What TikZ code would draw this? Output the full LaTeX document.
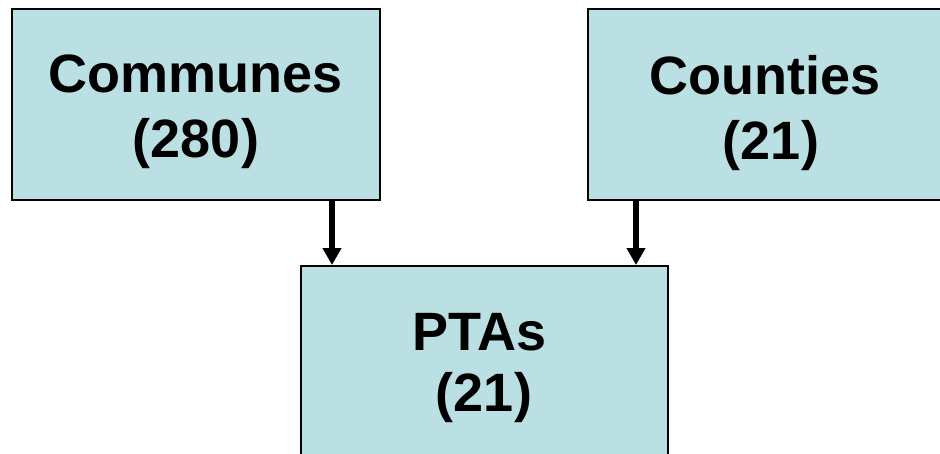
\documentclass[tikz,border=0pt]{standalone}
\usepackage{fontspec}
\setmainfont{Liberation Sans}
\usetikzlibrary{arrows.meta}
\definecolor{boxfill}{RGB}{187,224,227}
\tikzset{
  unitbox/.style={draw=black, line width=2pt, fill=boxfill, inner sep=0pt},
  boxtext/.style={font=\bfseries\fontsize{54}{65}\selectfont, align=center, inner sep=0pt, anchor=north},
  flow/.style={line width=5.5pt, -{Triangle[width=18pt,length=17pt]}, shorten >=0pt}
}
\begin{document}
\begin{tikzpicture}[x=1pt,y=-1pt]
  \useasboundingbox (0,0) rectangle (940,453);
  \clip (0,0) rectangle (940,453);
  % boxes (the right-hand and lower ones run past the page edge)
  \node[unitbox, minimum width=368pt, minimum height=191pt] (communes) at (196,104.5) {};
  \node[unitbox, minimum width=400pt, minimum height=191pt] (counties) at (788,104.5) {};
  \node[unitbox, minimum width=367pt, minimum height=200pt] (ptas) at (484.5,366) {};
  % labels
  \node[boxtext] (communesText) at (196,55) {Communes\\(280)};
  \node[boxtext] (countiesText) at (771,55) {Counties\kern12pt\\(21)};
  \node[boxtext, font=\bfseries\fontsize{54}{61}\selectfont] (ptasText) at (484,313) {PTAs\kern9pt\\(21)};
  % connectors
  \coordinate (c1) at (332,200);
  \coordinate (c2) at (636,200);
  \draw[flow] (c1) -- (c1 |- ptas.north);
  \draw[flow] (c2) -- (c2 |- ptas.north);
\end{tikzpicture}
\end{document}
